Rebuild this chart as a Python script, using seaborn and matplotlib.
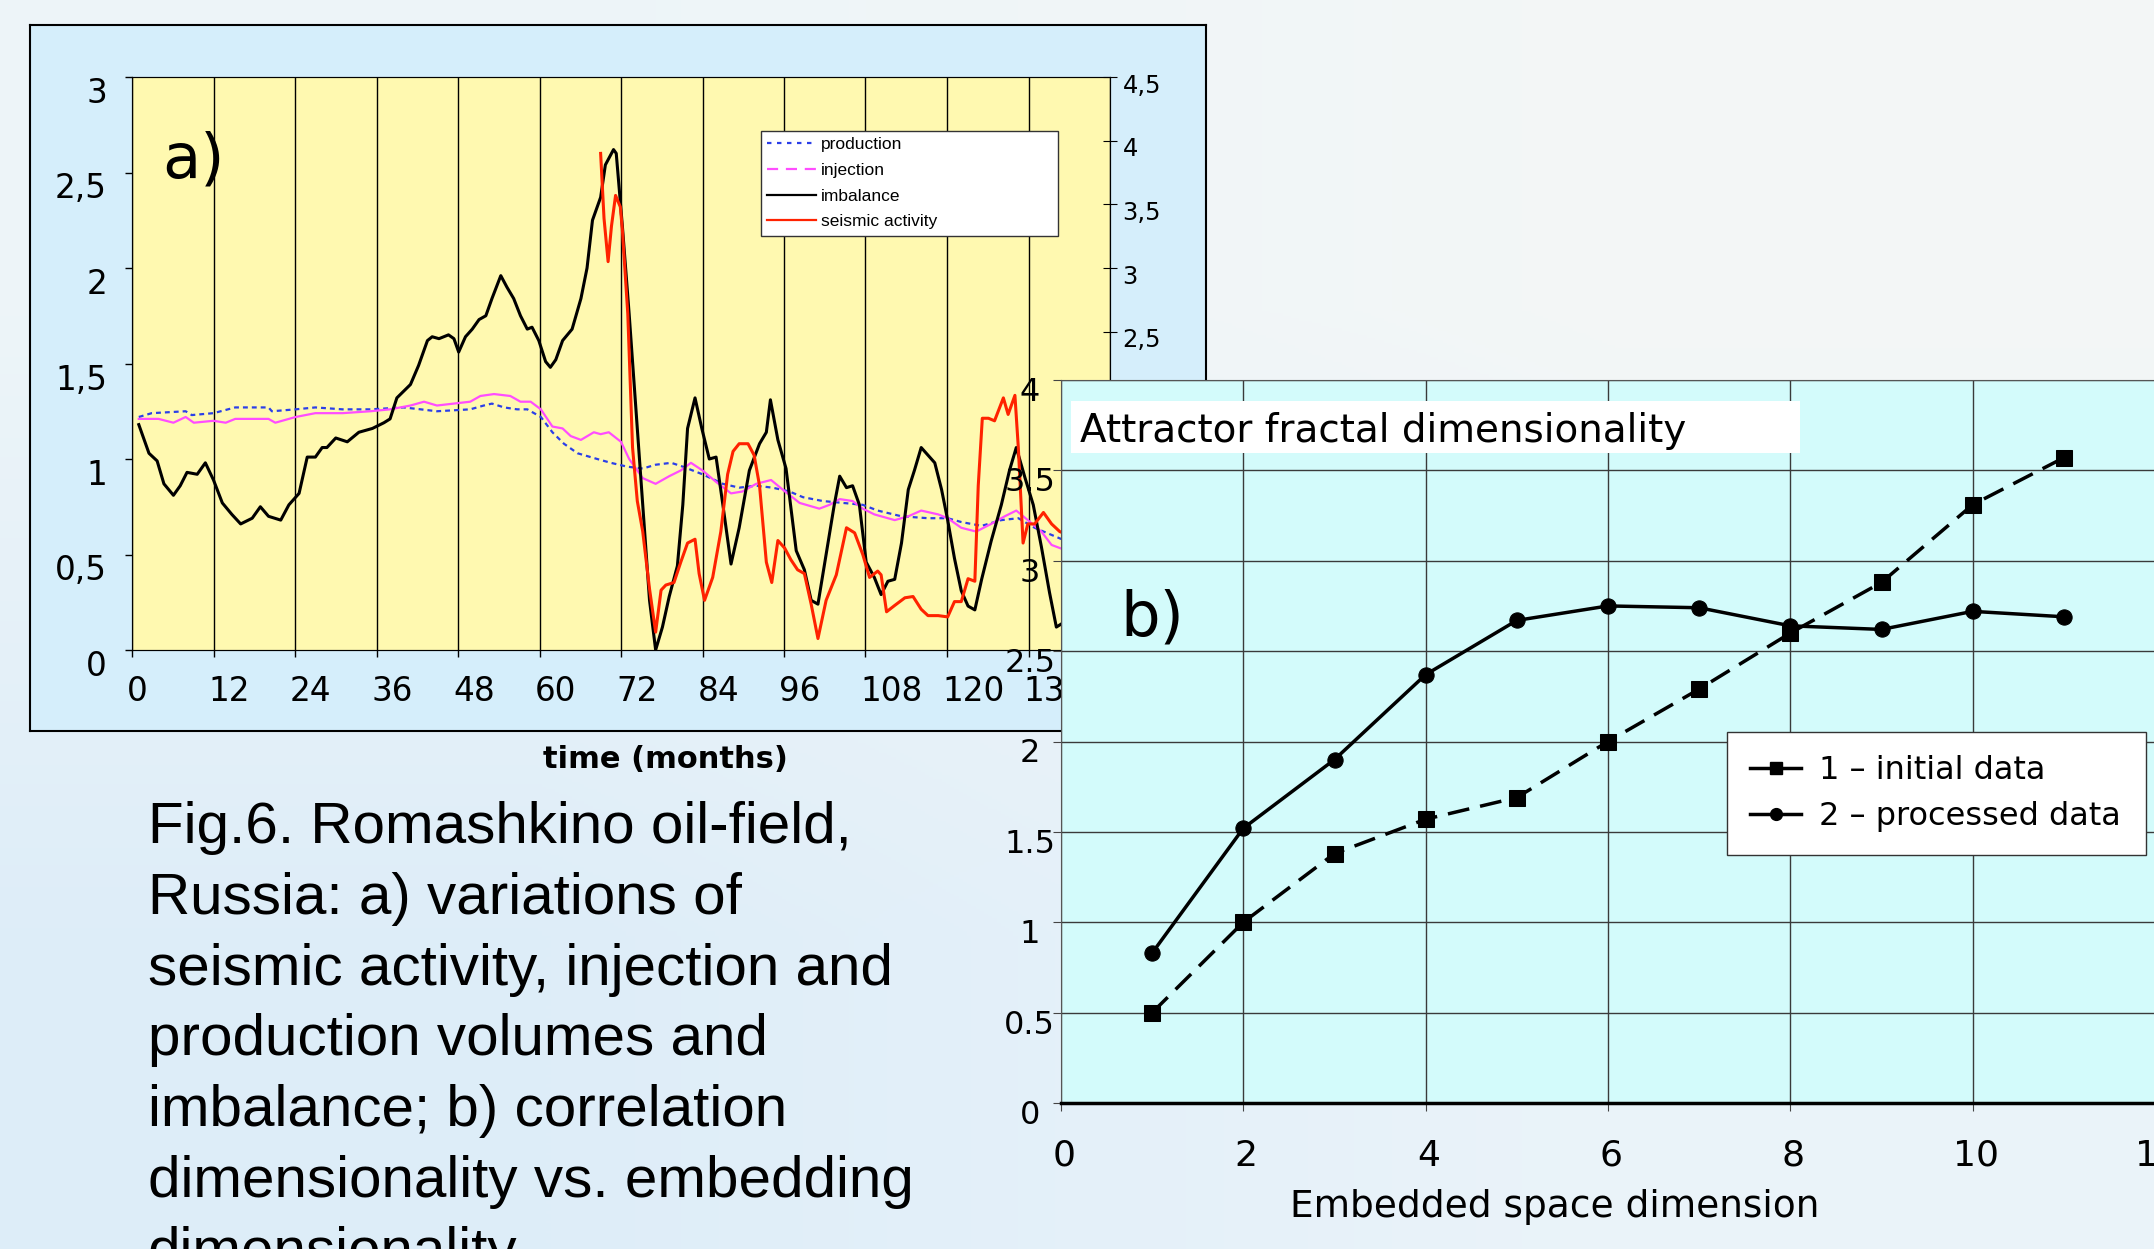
import numpy as np
import matplotlib
matplotlib.use("Agg")
import matplotlib.pyplot as plt
import seaborn as sns
from matplotlib.lines import Line2D
from matplotlib.patches import Rectangle
from matplotlib.transforms import ScaledTranslation

plt.rcParams['font.family'] = ['DejaVu Sans']

# ---- a) monthly series (read off the picture) ----
# left axis: production, injection, imbalance ; right axis: seismic activity
imb_t = [1.0, 2.5, 3.7, 4.7, 6.1, 7.1, 8.1, 9.6, 10.8, 12.0,
         13.3, 14.7, 16.0, 17.7, 18.9, 20.1, 21.9, 23.1, 24.6, 25.8,
         27.0, 28.0, 28.7, 30.0, 31.7, 33.4, 35.4, 37.1, 38.0, 39.0,
         41.0, 42.2, 43.5, 44.2, 45.2, 46.6, 47.4, 48.1, 49.1, 50.1,
         51.1, 52.1, 53.0, 54.3, 55.2, 56.2, 57.2, 58.2, 58.9, 59.9,
         60.9, 61.6, 62.4, 63.4, 64.8, 66.1, 67.0, 67.8, 69.0, 69.7,
         70.9, 71.3, 72.2, 73.2, 74.2, 75.2, 76.2, 77.1, 78.1, 79.1,
         80.3, 81.1, 81.8, 82.9, 83.9, 85.0, 86.0, 87.0, 88.2, 89.4,
         90.9, 92.4, 93.4, 94.0, 95.1, 96.3, 97.8, 99.0, 100.0, 101.0,
         102.2, 103.4, 104.2, 105.2, 106.1, 107.1, 108.1, 109.3, 110.3, 111.3,
         112.3, 113.3, 114.3, 115.2, 116.2, 117.2, 118.2, 119.2, 120.1, 121.1,
         122.1, 123.1, 124.1, 125.1, 126.5, 128.0, 129.2, 130.2, 131.5, 132.7,
         133.9, 135.1, 136.1, 137.0, 138.5]
imb_v = [1.18, 1.03, 0.99, 0.87, 0.81, 0.86, 0.93, 0.92, 0.98, 0.89,
         0.77, 0.71, 0.66, 0.69, 0.75, 0.70, 0.68, 0.76, 0.82, 1.01,
         1.01, 1.06, 1.06, 1.11, 1.09, 1.14, 1.16, 1.19, 1.21, 1.32,
         1.39, 1.49, 1.62, 1.64, 1.63, 1.65, 1.63, 1.56, 1.64, 1.68,
         1.73, 1.75, 1.84, 1.96, 1.90, 1.84, 1.75, 1.68, 1.69, 1.62,
         1.51, 1.48, 1.52, 1.62, 1.68, 1.84, 2.00, 2.25, 2.37, 2.54,
         2.62, 2.60, 2.22, 1.76, 1.26, 0.76, 0.26, 0.00, 0.12, 0.28,
         0.44, 0.76, 1.16, 1.32, 1.16, 1.00, 1.01, 0.76, 0.45, 0.64,
         0.94, 1.08, 1.14, 1.31, 1.10, 0.95, 0.52, 0.42, 0.26, 0.24,
         0.50, 0.76, 0.91, 0.85, 0.86, 0.76, 0.46, 0.38, 0.29, 0.36,
         0.37, 0.56, 0.84, 0.94, 1.06, 1.02, 0.98, 0.84, 0.68, 0.48,
         0.31, 0.23, 0.21, 0.37, 0.57, 0.76, 0.94, 1.06, 0.90, 0.76,
         0.54, 0.30, 0.12, 0.14, 0.30]

prod_t = [1.0, 2.9, 7.9, 8.8, 12.0, 15.2, 20.1, 20.6, 24.1, 27.0,
          31.0, 35.1, 40.0, 42.5, 44.9, 49.8, 51.8, 53.0, 54.8, 56.7,
          58.2, 60.2, 61.9, 63.6, 65.6, 68.5, 70.5, 72.9, 75.2, 77.1,
          79.4, 81.1, 84.0, 87.0, 89.4, 91.9, 94.3, 96.8, 98.8, 101.7,
          104.7, 107.6, 109.8, 113.3, 117.2, 120.1, 122.1, 125.1, 128.0, 130.5,
          132.9, 136.9, 138.5]
prod_v = [1.22, 1.24, 1.25, 1.23, 1.24, 1.27, 1.27, 1.25, 1.26, 1.27,
          1.26, 1.26, 1.27, 1.26, 1.25, 1.26, 1.28, 1.29, 1.27, 1.26,
          1.26, 1.22, 1.14, 1.08, 1.03, 1.00, 0.98, 0.96, 0.95, 0.97,
          0.98, 0.96, 0.92, 0.87, 0.85, 0.86, 0.85, 0.83, 0.80, 0.78,
          0.77, 0.76, 0.73, 0.70, 0.69, 0.69, 0.67, 0.65, 0.68, 0.69,
          0.64, 0.58, 0.56]

inj_t = [1.0, 3.9, 6.1, 7.9, 9.1, 12.0, 13.8, 15.2, 20.1, 21.1,
         24.1, 27.0, 31.0, 35.1, 38.0, 41.0, 43.0, 44.9, 49.8, 51.3,
         53.3, 55.7, 57.2, 58.7, 60.2, 61.9, 63.4, 64.6, 66.1, 68.0,
         69.0, 70.2, 72.0, 73.2, 75.2, 77.1, 79.1, 80.8, 82.3, 84.0,
         86.0, 88.2, 89.9, 91.9, 94.1, 95.8, 98.3, 101.2, 102.7, 104.2,
         106.1, 107.6, 109.3, 112.3, 114.3, 116.2, 118.7, 120.1, 122.1, 124.3,
         126.5, 128.5, 130.2, 131.9, 133.9, 135.4, 136.9, 138.5]
inj_v = [1.21, 1.21, 1.19, 1.22, 1.19, 1.20, 1.19, 1.21, 1.21, 1.19,
         1.22, 1.24, 1.24, 1.25, 1.26, 1.28, 1.30, 1.28, 1.30, 1.33,
         1.34, 1.33, 1.30, 1.30, 1.26, 1.17, 1.16, 1.12, 1.10, 1.14,
         1.13, 1.14, 1.09, 1.00, 0.90, 0.87, 0.91, 0.94, 0.98, 0.94,
         0.88, 0.82, 0.83, 0.87, 0.89, 0.84, 0.77, 0.74, 0.76, 0.79,
         0.78, 0.74, 0.71, 0.68, 0.70, 0.73, 0.71, 0.69, 0.64, 0.62,
         0.66, 0.70, 0.73, 0.68, 0.62, 0.55, 0.53, 0.52]

sei_t = [69.0, 69.5, 70.1, 70.6, 71.2, 71.9, 72.2, 73.0, 73.7, 74.4,
         75.2, 76.2, 77.1, 77.9, 78.6, 79.8, 80.8, 81.8, 82.9, 83.5,
         84.3, 85.5, 86.7, 87.7, 88.5, 89.4, 90.7, 91.6, 92.4, 93.4,
         94.2, 95.1, 96.1, 97.0, 98.0, 99.0, 100.0, 101.0, 102.2, 103.7,
         105.2, 106.4, 107.6, 108.6, 109.8, 110.3, 111.1, 112.3, 113.8, 115.0,
         116.2, 117.2, 118.7, 120.1, 121.1, 122.1, 123.1, 124.1, 124.6, 125.2,
         126.1, 127.0, 128.3, 129.0, 130.0, 130.5, 131.2, 131.9, 132.9, 134.2,
         135.4, 136.6, 138.0]
sei_v = [3.90, 3.39, 3.05, 3.33, 3.57, 3.48, 3.30, 2.64, 1.59, 1.17,
         0.93, 0.48, 0.14, 0.47, 0.51, 0.53, 0.69, 0.84, 0.87, 0.60,
         0.39, 0.57, 0.93, 1.38, 1.56, 1.62, 1.62, 1.53, 1.29, 0.69,
         0.53, 0.86, 0.80, 0.71, 0.63, 0.60, 0.36, 0.09, 0.39, 0.59,
         0.96, 0.92, 0.75, 0.57, 0.62, 0.59, 0.30, 0.35, 0.41, 0.42,
         0.32, 0.27, 0.27, 0.26, 0.38, 0.38, 0.56, 0.54, 1.29, 1.82,
         1.82, 1.80, 1.98, 1.85, 2.00, 1.59, 0.84, 0.99, 0.99, 1.08,
         0.99, 0.93, 0.90]

a_names = ["production", "injection", "imbalance", "seismic activity"]
month_ticks = [0, 12, 24, 36, 48, 60, 72, 84, 96, 108, 120, 132, 144]
left_ticks = [0, 0.5, 1, 1.5, 2, 2.5, 3]
left_labels = ["0", "0,5", "1", "1,5", "2", "2,5", "3"]
right_ticks = [0, 0.5, 1, 1.5, 2, 2.5, 3, 3.5, 4, 4.5]
right_labels = ["0", "0,5", "1", "1,5", "2", "2,5", "3", "3,5", "4", "4,5"]

# ---- b) attractor dimension ----
emb_dim = [1, 2, 3, 4, 5, 6, 7, 8, 9, 10, 11]
initial = [0.50, 1.00, 1.38, 1.57, 1.69, 2.00, 2.29, 2.60, 2.88, 3.31, 3.57]
processed = [0.83, 1.52, 1.90, 2.37, 2.67, 2.75, 2.74, 2.64, 2.62, 2.72, 2.69]
b_names = ["1 – initial data", "2 – processed data"]
b_xticks = [0, 2, 4, 6, 8, 10, 12]
b_yticks = [0, 0.5, 1, 1.5, 2, 2.5, 3, 3.5, 4]
b_ylabels = ["0", "0.5", "1", "1.5", "2", "2.5", "3", "3.5", "4"]

caption = ("Fig.6. Romashkino oil-field,\nRussia: a) variations of\n"
           "seismic activity, injection and\nproduction volumes and\n"
           "imbalance; b) correlation\ndimensionality vs. embedding\n"
           "dimensionality.")

W, H = 2154, 1249
fig = plt.figure(figsize=(W / 100, H / 100), dpi=100)


def px_box(x0, y0, x1, y1):
    return [x0 / W, 1 - y1 / H, (x1 - x0) / W, (y1 - y0) / H]


def nudge(labels, dx, dy):
    off = ScaledTranslation(dx / 100, -dy / 100, fig.dpi_scale_trans)
    for lab in labels:
        lab.set_transform(lab.get_transform() + off)


# slide background
bg = fig.add_axes([0, 0, 1, 1], zorder=-5)
grad = np.array([[[0.93, 0.96, 0.975], [0.955, 0.967, 0.967]],
                 [[0.87, 0.93, 0.975], [0.92, 0.955, 0.98]]])
bg.imshow(grad, extent=[0, 1, 0, 1], aspect='auto', interpolation='bilinear')
bg.axis('off')

# light blue frame of panel a
frame = fig.add_axes(px_box(30, 25, 1206, 731))
frame.set_facecolor('#d5eefb')
frame.set_xticks([])
frame.set_yticks([])
for s in frame.spines.values():
    s.set_color('black')
    s.set_linewidth(1.5)

# panel a
ax = fig.add_axes(px_box(132, 77, 1110, 650))
ax.set_facecolor('#fff9b0')
sns.lineplot(x=prod_t, y=prod_v, ax=ax, color='#2b3fe8', lw=1.6,
             linestyle=(0, (2.2, 1.8)), estimator=None)
sns.lineplot(x=inj_t, y=inj_v, ax=ax, color='#ff4dff', lw=1.6, estimator=None)
sns.lineplot(x=imb_t, y=imb_v, ax=ax, color='black', lw=2.2, estimator=None)
ax.set_xlim(0, 144)
ax.set_ylim(0, 3)
ax.set_xticks(month_ticks, [str(m) for m in month_ticks])
ax.set_yticks(left_ticks, left_labels)
ax.set_xlabel('')
ax.set_ylabel('')
ax.grid(axis='x', color='black', lw=1)
ax.tick_params(labelsize=23.5, length=5, width=1, color='black', pad=13)
for s in ax.spines.values():
    s.set_color('#333333')

axr = ax.twinx()
sns.lineplot(x=sei_t, y=sei_v, ax=axr, color='#ff2200', lw=2.2, estimator=None)
axr.set_ylim(0, 4.5)
axr.set_yticks(right_ticks, right_labels)
axr.set_ylabel('')
axr.tick_params(axis='y', labelsize=17.5, direction='inout', length=10, pad=4)

a_handles = [Line2D([], [], color='#2b3fe8', lw=1.6, linestyle=(0, (2, 2.5))),
             Line2D([], [], color='#ff4dff', lw=1.6, linestyle=(0, (5, 3.5))),
             Line2D([], [], color='black', lw=1.6),
             Line2D([], [], color='#ff2200', lw=1.6)]
axr.legend(a_handles, a_names, loc='upper left', mode='expand',
           bbox_to_anchor=(761 / W, 1 - 234 / H, 297 / W, 103 / H),
           bbox_transform=fig.transFigure, borderaxespad=0,
           prop={'family': 'Liberation Sans', 'size': 12.5},
           fancybox=False, framealpha=1, edgecolor='#333333',
           handlelength=2.8, handletextpad=0.3, labelspacing=0.61, borderpad=0.35)

for lab in ax.get_xticklabels():
    lab.set_ha('left')
nudge(ax.get_xticklabels(), -5, 0)
nudge(ax.get_yticklabels(), 0, 13)
nudge(axr.get_yticklabels(), 0, 6)

# panel b
axb = fig.add_axes(px_box(1061, 380, 2155, 1103))
axb.set_facecolor('#d3fbfb')
sns.lineplot(x=emb_dim, y=initial, ax=axb, color='black', lw=2.5,
             linestyle=(0, (6.3, 3.2)), marker='s', markersize=11,
             markeredgecolor='black', estimator=None)
sns.lineplot(x=emb_dim, y=processed, ax=axb, color='black', lw=2.5,
             marker='o', markersize=11, markeredgecolor='black', estimator=None)
axb.set_xlim(0, 12)
axb.set_ylim(0, 4)
axb.set_xticks(b_xticks, [str(v) for v in b_xticks])
axb.set_yticks(b_yticks, b_ylabels)
axb.set_xlabel('')
axb.set_ylabel('')
axb.set_axisbelow(True)
axb.grid(True, color='#3a3a3a', lw=1)
axb.tick_params(color='#444444')
axb.tick_params(axis='x', labelsize=26, length=5.8, pad=20)
axb.tick_params(axis='y', labelsize=23, length=5.5, pad=17)
for s in axb.spines.values():
    s.set_color('#555555')
axb.spines['bottom'].set_color('black')
axb.spines['bottom'].set_linewidth(2.5)

b_handles = [Line2D([], [], color='black', lw=2.5, marker='s', markersize=8.5),
             Line2D([], [], color='black', lw=2.5, marker='o', markersize=8.5)]
axb.legend(b_handles, b_names, loc='upper left', mode='expand',
           bbox_to_anchor=(1727 / W, 1 - 856 / H, 419 / W, 124 / H),
           bbox_transform=fig.transFigure, borderaxespad=0, fontsize=23,
           fancybox=False, framealpha=1, edgecolor='#333333',
           handlelength=1.6, handletextpad=0.56,
           labelspacing=0.48, borderpad=0.72)

for lab in axb.get_yticklabels():
    lab.set_ha('center')
nudge(axb.get_yticklabels(), 0, 9)
nudge(axb.get_xticklabels(), 3, 0)

# texts
fig.patches.append(Rectangle((1071 / W, 1 - 453 / H), 729 / W, 52 / H,
                             transform=fig.transFigure, facecolor='white',
                             edgecolor='none', zorder=2))
fig.text(1080 / W, 1 - 442 / H, "Attractor fractal dimensionality",
         ha='left', va='baseline', fontsize=28, zorder=3)
fig.text(194 / W, 1 - 160 / H, "a)", ha='center', va='center', fontsize=45)
fig.text(1152 / W, 1 - 618 / H, "b)", ha='center', va='center', fontsize=45)
fig.text(665 / W, 1 - 768 / H, "time (months)", ha='center', va='baseline',
         fontsize=22, fontweight='bold')
fig.text(1290 / W, 1 - 1217 / H, "Embedded space dimension", ha='left',
         va='baseline', fontsize=27)
fig.text(148 / W, 1 - 801 / H, caption, ha='left', va='top', fontsize=42,
         family='Liberation Sans', linespacing=1.40)

fig.savefig('out.png', dpi=100)
